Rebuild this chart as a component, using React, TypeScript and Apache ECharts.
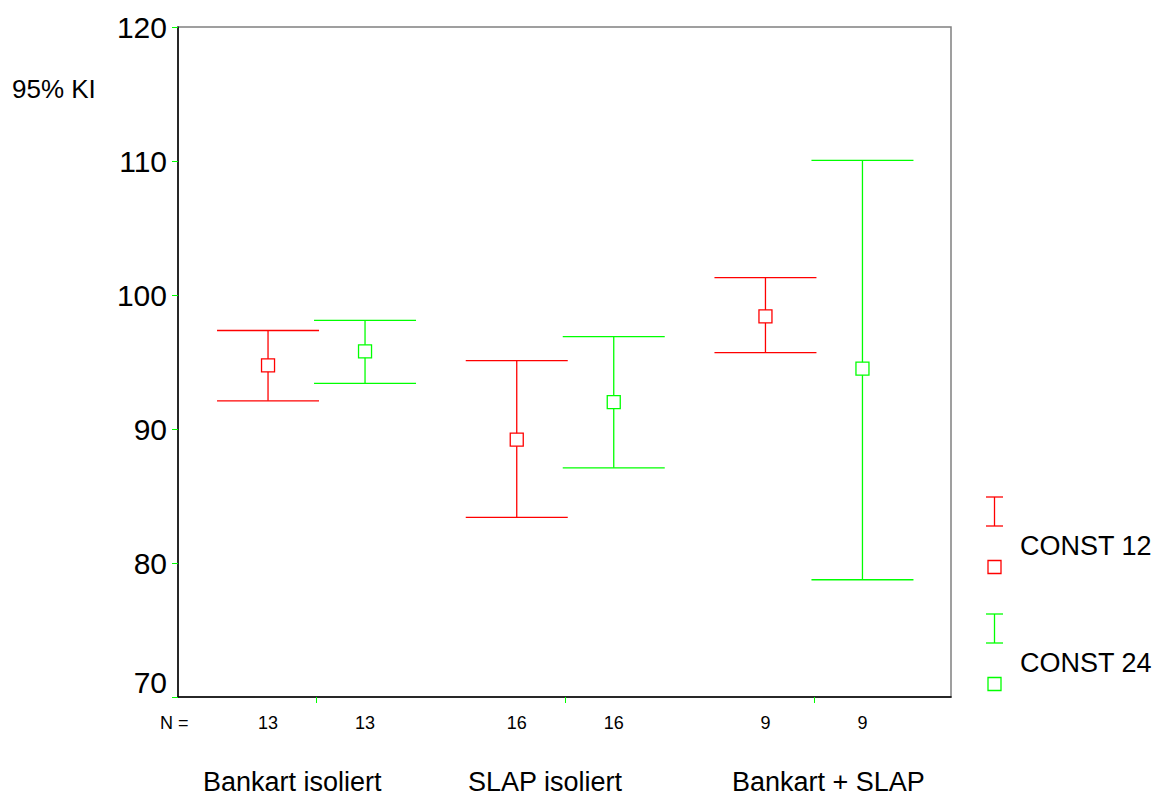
import React, { useEffect, useRef } from "react";
import * as echarts from "echarts";

// ---- data ----
const groups = ["Bankart isoliert", "SLAP isoliert", "Bankart + SLAP"];
const seriesNames = ["CONST 12", "CONST 24"];
const const12Lower = [92.1, 83.4, 95.7];
const const12Mean = [94.75, 89.2, 98.4];
const const12Upper = [97.35, 95.1, 101.3];
const const24Lower = [93.4, 87.1, 78.75];
const const24Mean = [95.8, 92.0, 94.5];
const const24Upper = [98.1, 96.9, 110.05];
const nCounts12 = [13, 16, 9];
const nCounts24 = [13, 16, 9];
const yMin = 70;
const yMax = 120;
const yInterval = 10;
const groupTicks = [0, 1, 2];

// ---- styles / layout ----
const colors = ["#ff0000", "#00ff00"];
const barOffsetPx = [-48.5, 48.5];
const capHalfPx = 51;
const boxSize = 13;
const FONT = "'Liberation Sans', Arial, sans-serif";
const catLabelLeft = [203, 468, 732];

function makeSeries(idx: number, lower: number[], mean: number[], upper: number[], n: number[]) {
  const data = groups.map((_, i) => [i, lower[i], mean[i], upper[i], n[i]]);
  return {
    type: "custom",
    name: seriesNames[idx],
    clip: false,
    data,
    renderItem: (params: any, api: any) => {
      const gi = api.value(0);
      const cx = api.coord([gi, yMin])[0] + barOffsetPx[idx];
      const yLo = api.coord([gi, api.value(1)])[1];
      const yMean = api.coord([gi, api.value(2)])[1];
      const yHi = api.coord([gi, api.value(3)])[1];
      const yBottom = api.coord([gi, yMin])[1];
      const stroke = colors[idx];
      const ls = { stroke, lineWidth: 1.3, fill: "none" };
      return {
        type: "group",
        children: [
          { type: "line", shape: { x1: cx, y1: yHi, x2: cx, y2: yLo }, style: ls },
          { type: "line", shape: { x1: cx - capHalfPx, y1: yHi, x2: cx + capHalfPx, y2: yHi }, style: ls },
          { type: "line", shape: { x1: cx - capHalfPx, y1: yLo, x2: cx + capHalfPx, y2: yLo }, style: ls },
          {
            type: "rect",
            shape: { x: cx - boxSize / 2, y: yMean - boxSize / 2, width: boxSize, height: boxSize },
            style: { stroke, lineWidth: 1.3, fill: "#ffffff" },
          },
          {
            type: "text",
            x: cx,
            y: yBottom + 26,
            style: {
              text: String(api.value(4)),
              fill: "#000",
              font: `18px ${FONT}`,
              align: "center",
              verticalAlign: "middle",
            },
          },
        ],
      };
    },
  };
}

function legendItem(idx: number, top: number) {
  const c = colors[idx];
  const cx = 994.5;
  const ls = { stroke: c, lineWidth: 1.3 };
  return [
    { type: "line", shape: { x1: cx, y1: top, x2: cx, y2: top + 29 }, style: ls },
    { type: "line", shape: { x1: cx - 8.5, y1: top, x2: cx + 8.5, y2: top }, style: ls },
    { type: "line", shape: { x1: cx - 8.5, y1: top + 29, x2: cx + 8.5, y2: top + 29 }, style: ls },
    {
      type: "rect",
      shape: { x: cx - boxSize / 2, y: top + 63.5, width: boxSize, height: boxSize },
      style: { stroke: c, lineWidth: 1.3, fill: "#fff" },
    },
    {
      type: "text",
      x: 1020,
      y: top + 49,
      style: { text: seriesNames[idx], fill: "#000", font: `27px ${FONT}`, align: "left", verticalAlign: "middle" },
    },
  ];
}

export default function App() {
  const ref = useRef<HTMLDivElement>(null);
  useEffect(() => {
    document.body.style.margin = "0";
    if (!ref.current) return;
    const chart = echarts.init(ref.current, undefined, { renderer: "svg" });
    chart.setOption({
      animation: false,
      backgroundColor: "#ffffff",
      grid: {
        left: 178,
        top: 27,
        right: 206,
        bottom: 101,
        show: true,
        borderColor: "#808080",
        borderWidth: 1.5,
        backgroundColor: "transparent",
      },
      xAxis: {
        type: "value",
        min: -0.557,
        max: 2.551,
        splitLine: { show: false },
        axisLine: { show: true, onZero: false, lineStyle: { color: "#000", width: 1.5 } },
        axisTick: { show: true, length: 6, lineStyle: { color: "#00ff00", width: 1 }, customValues: groupTicks },
        axisLabel: { show: false },
      },
      yAxis: {
        type: "value",
        min: yMin,
        max: yMax,
        interval: yInterval,
        splitLine: { show: false },
        axisLine: { show: true, onZero: false, lineStyle: { color: "#000", width: 1.5 } },
        axisTick: { show: true, length: 6, lineStyle: { color: "#00ff00", width: 1 } },
        axisLabel: {
          color: "#000",
          fontSize: 30,
          fontFamily: FONT,
          margin: 11,
          verticalAlignMinLabel: "bottom",
        },
      },
      series: [
        makeSeries(0, const12Lower, const12Mean, const12Upper, nCounts12),
        makeSeries(1, const24Lower, const24Mean, const24Upper, nCounts24),
      ],
      graphic: [
        {
          type: "text",
          x: 12,
          y: 89,
          style: { text: "95% KI", fill: "#000", font: `26px ${FONT}`, align: "left", verticalAlign: "middle" },
        },
        {
          type: "text",
          x: 160,
          y: 723,
          style: { text: "N =", fill: "#000", font: `18px ${FONT}`, align: "left", verticalAlign: "middle" },
        },
        ...groups.map((g, i) => ({
          type: "text",
          x: catLabelLeft[i],
          y: 782,
          style: { text: g, fill: "#000", font: `27px ${FONT}`, align: "left", verticalAlign: "middle" },
        })),
        ...legendItem(0, 497),
        ...legendItem(1, 614),
      ],
    });
    return () => chart.dispose();
  }, []);
  return <div ref={ref} style={{ width: 1157, height: 798 }} />;
}
